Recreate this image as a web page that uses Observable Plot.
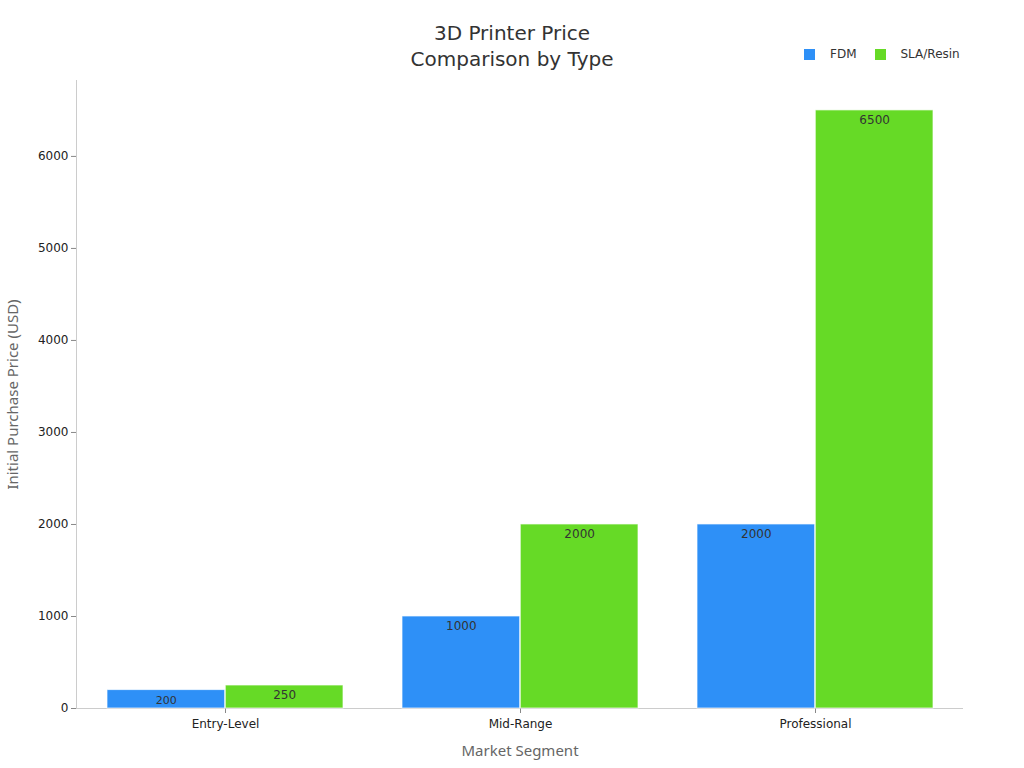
<!DOCTYPE html>
<html>
<head>
<meta charset="utf-8">
<script src="https://cdn.jsdelivr.net/npm/d3@7"></script>
<script src="https://cdn.jsdelivr.net/npm/@observablehq/plot@0.6"></script>
<style>
  html, body { margin: 0; padding: 0; background: #fff; }
  #wrap { position: relative; width: 1024px; height: 768px; font-family: "DejaVu Sans", sans-serif; }
  #title { position: absolute; left: 0; top: 20px; width: 1024px; text-align: center; font-size: 20px; line-height: 26px; color: #333; }
  #legend { position: absolute; left: 804px; top: 47px; font-size: 12px; color: #333; display: flex; align-items: center; }
  #legend .sw { width: 11px; height: 11px; display: inline-block; margin-right: 15px; }
  #legend .item { display: flex; align-items: center; margin-right: 18px; }
  #chart { position: absolute; left: 0; top: 0; }
</style>
</head>
<body>
<div id="wrap">
  <div id="chart"></div>
  <div id="title">3D Printer Price<br>Comparison by Type</div>
  <div id="legend"></div>
</div>
<script>
const segments = ["Entry-Level", "Mid-Range", "Professional"];
const types = ["FDM", "SLA/Resin"];
const fdmPrices = [200, 1000, 2000];
const slaPrices = [250, 2000, 6500];
const yTicks = [0, 1000, 2000, 3000, 4000, 5000, 6000];
const colors = ["#2E90F7", "#66DA26"];

const rows = [];
segments.forEach((s, i) => {
  rows.push({segment: s, type: types[0], price: fdmPrices[i]});
  rows.push({segment: s, type: types[1], price: slaPrices[i]});
});

const W = 1024, H = 768, ML = 76, MR = 61, MT = 80, MB = 60;
const padIn = 0.2, padOut = 0.1;
const step = (W - ML - MR) / (segments.length - padIn + 2 * padOut);
const half = step * (1 - padIn) / 2;

const fdm = rows.filter(d => d.type === types[0]);
const sla = rows.filter(d => d.type === types[1]);

const plot = Plot.plot({
  width: W, height: H,
  marginLeft: ML, marginRight: MR, marginTop: MT, marginBottom: MB,
  style: {fontFamily: "DejaVu Sans, sans-serif", fontSize: "12px", color: "#222", background: "white"},
  x: {domain: segments, paddingInner: padIn, paddingOuter: padOut, label: null},
  y: {domain: [0, 6825], label: null},
  color: {domain: types, range: colors},
  marks: [
    Plot.frame({anchor: "left", stroke: "#ccc"}),
    Plot.ruleY([0], {stroke: "#ccc"}),
    Plot.axisY({ticks: yTicks, tickFormat: d => String(d), tickSize: 5, tickPadding: 3, stroke: "#888", fill: "#222", label: null}),
    Plot.axisX({tickSize: 5, tickPadding: 6, stroke: "#888", fill: "#222", label: null}),
    Plot.barY(fdm, {x: "segment", y: "price", fill: "type", insetRight: half, stroke: "white", strokeOpacity: 0.7, strokeWidth: 1}),
    Plot.barY(sla, {x: "segment", y: "price", fill: "type", insetLeft: half, stroke: "white", strokeOpacity: 0.7, strokeWidth: 1}),
    Plot.text(fdm, {x: "segment", y: "price", text: d => String(d.price), dx: -half / 2, dy: 10, fill: "#333", fontSize: d => d.price < 500 ? 11 : 12}),
    Plot.text(sla, {x: "segment", y: "price", text: d => String(d.price), dx: half / 2, dy: 10, fill: "#333", fontSize: 12}),
    Plot.text(["Market Segment"], {frameAnchor: "bottom", textAnchor: "middle", dy: 47, fill: "#666", fontSize: 15, fontFamily: "Noto Sans, sans-serif"}),
    Plot.text(["Initial Purchase Price (USD)"], {frameAnchor: "left", textAnchor: "middle", dx: -63, rotate: -90, fill: "#666", fontSize: 15, fontFamily: "Noto Sans, sans-serif"})
  ]
});
document.getElementById("chart").appendChild(plot);

const legend = document.getElementById("legend");
types.forEach((t, i) => {
  const item = document.createElement("span");
  item.className = "item";
  const sw = document.createElement("span");
  sw.className = "sw";
  sw.style.background = colors[i];
  item.appendChild(sw);
  item.appendChild(document.createTextNode(t));
  legend.appendChild(item);
});
</script>
</body>
</html>
